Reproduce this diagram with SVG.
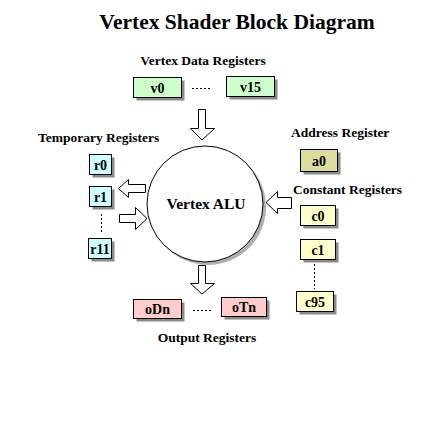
<svg xmlns="http://www.w3.org/2000/svg" width="432" height="432" viewBox="0 0 432 432">
<style>
text{font-family:"Liberation Serif","Times New Roman",serif;font-weight:bold;fill:#000}
.title{font-size:21.5px}
.lbl{font-size:13.5px}
.reg{font-size:14px;text-anchor:middle}
.sh{fill:#8a8a8a}
.box{stroke:#000;stroke-width:1}
.g{fill:#ccffcc}.c{fill:#ccffff}.y{fill:#ffffcc}.k{fill:#dcdc9c}.p{fill:#ffcccc}
.arr{fill:#fff;stroke:#000;stroke-width:1;stroke-linejoin:miter}
.dot{stroke:#000;stroke-width:1;stroke-dasharray:2,2;fill:none}
</style>
<rect width="432" height="432" fill="#fff"/>
<text class="title" x="237" y="29" text-anchor="middle">Vertex Shader Block Diagram</text>
<text class="lbl" x="203" y="65" text-anchor="middle">Vertex Data Registers</text>
<text class="lbl" x="38" y="142">Temporary Registers</text>
<text class="lbl" x="291" y="137">Address Register</text>
<text class="lbl" x="293" y="194">Constant Registers</text>
<text class="lbl" x="207" y="342" text-anchor="middle">Output Registers</text>

<g id="alu">
<circle cx="208" cy="207" r="58" fill="#b0b0b0"/>
<circle cx="205" cy="204" r="58" fill="#fff" stroke="#000" stroke-width="1"/>
<text x="206" y="209" text-anchor="middle" style="font-size:15.5px">Vertex ALU</text>
</g>

<g id="v0"><rect class="sh" x="136.5" y="80.5" width="48" height="20"/><rect class="box g" x="133.5" y="77.5" width="48" height="20"/><text class="reg" x="157.5" y="92.5">v0</text></g>
<g id="v15"><rect class="sh" x="229.5" y="79.5" width="48" height="20"/><rect class="box g" x="226.5" y="76.5" width="48" height="20"/><text class="reg" x="250.5" y="91.5">v15</text></g>

<g id="r0"><rect class="sh" x="92.5" y="157.5" width="22" height="20"/><rect class="box c" x="89.5" y="154.5" width="22" height="20"/><text class="reg" x="100.5" y="169.5">r0</text></g>
<g id="r1"><rect class="sh" x="92.5" y="189.5" width="22" height="20"/><rect class="box c" x="89.5" y="186.5" width="22" height="20"/><text class="reg" x="100.5" y="201.5">r1</text></g>
<g id="r11"><rect class="sh" x="91.5" y="241.5" width="23" height="20"/><rect class="box c" x="88.5" y="238.5" width="23" height="20"/><text class="reg" x="100" y="253.5">r11</text></g>

<g id="a0"><rect class="sh" x="303.5" y="152.5" width="37" height="22"/><rect class="box k" x="300.5" y="149.5" width="37" height="22"/><text class="reg" x="319" y="165.5">a0</text></g>

<g id="c0"><rect class="sh" x="303.5" y="208.5" width="35" height="20"/><rect class="box y" x="300.5" y="205.5" width="35" height="20"/><text class="reg" x="318" y="220.5">c0</text></g>
<g id="c1"><rect class="sh" x="303.5" y="242.5" width="35" height="20"/><rect class="box y" x="300.5" y="239.5" width="35" height="20"/><text class="reg" x="318" y="254.5">c1</text></g>
<g id="c95"><rect class="sh" x="299.5" y="294.5" width="37" height="20"/><rect class="box y" x="296.5" y="291.5" width="37" height="20"/><text class="reg" x="315" y="306.5">c95</text></g>

<g id="oDn"><rect class="sh" x="136.5" y="302.5" width="48" height="19"/><rect class="box p" x="133.5" y="299.5" width="48" height="19"/><text class="reg" x="157.5" y="314">oDn</text></g>
<g id="oTn"><rect class="sh" x="224.5" y="300.5" width="45" height="19"/><rect class="box p" x="221.5" y="297.5" width="45" height="19"/><text class="reg" x="244" y="312">oTn</text></g>

<g id="connectors">
<line class="dot" x1="192" y1="88.5" x2="212" y2="88.5"/>
<line class="dot" x1="193" y1="310.5" x2="212" y2="310.5"/>
<line class="dot" x1="101.5" y1="214" x2="101.5" y2="234"/>
<line class="dot" x1="314.5" y1="264" x2="314.5" y2="289"/>
<polygon class="arr" points="198.5,109.5 205.5,109.5 205.5,128.5 214.5,128.5 202,140 190.5,128.5 198.5,128.5"/>
<polygon class="arr" points="198.5,265.5 205.5,265.5 205.5,283.5 214.5,283.5 202,294 190.5,283.5 198.5,283.5"/>
<polygon class="arr" points="145.5,184.5 128.5,184.5 128.5,179.5 118.5,188.5 128.5,197.5 128.5,192.5 145.5,192.5"/>
<polygon class="arr" points="119.5,214.5 135.5,214.5 135.5,207.5 147,218.5 135.5,229.5 135.5,222.5 119.5,222.5"/>
<polygon class="arr" points="291.5,197.5 277.5,197.5 277.5,191.5 266,202.5 277.5,213.5 277.5,208.5 291.5,208.5"/>
</g>
</svg>
